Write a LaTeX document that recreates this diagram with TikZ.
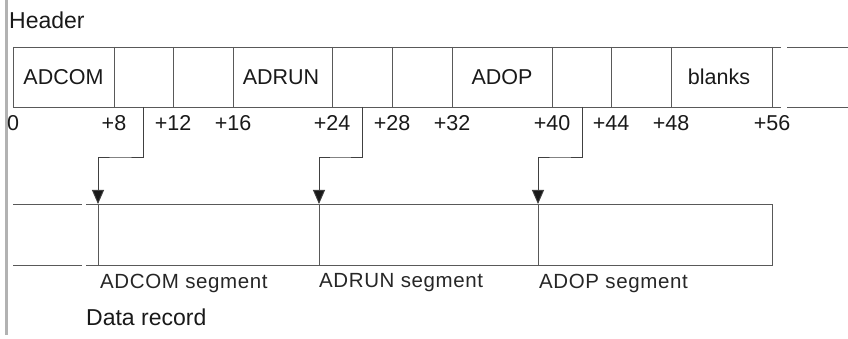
\documentclass[tikz,border=0pt]{standalone}
\usepackage{fontspec}
\setmainfont{Liberation Sans}
\usetikzlibrary{arrows.meta}
\begin{document}
\begin{tikzpicture}[x=1pt,y=-1pt,
  rec/.style={draw=black!65,line width=0.9pt},
  lbl/.style={inner sep=0pt,text=black!90,font=\fontsize{21.5}{25}\selectfont},
  big/.style={inner sep=0pt,text=black!90,font=\fontsize{23}{27}\selectfont},
  seg/.style={inner sep=0pt,text=black!85,font=\addfontfeature{LetterSpace=3}\fontsize{20.5}{24}\selectfont},
  ptr/.style={draw=black!75,line width=0.9pt,-{Triangle[width=12pt,length=14pt,fill=black!90]}}]
\useasboundingbox (0,0) rectangle (848,339);
% left side bar
\fill[black!30] (5,0) rectangle (8,335);
% titles
\node[big,anchor=west] (hdr) at (9,20) {Header};
\node[big,anchor=west] (drec) at (86,317) {Data record};
% header record
\draw[rec] (13,47) -- (781,47);
\draw[rec] (787,47) -- (848,47);
\draw[rec] (13,107) -- (781,107);
\draw[rec] (787,107) -- (848,107);
\foreach \x in {13,114,173,233,332,392,452,552,611,671,772}
  \draw[rec] (\x,47) -- (\x,107);
\node[lbl] (c1) at (63.5,77) {ADCOM};
\node[lbl] (c2) at (281,77) {ADRUN};
\node[lbl] (c3) at (502,77) {ADOP};
\node[lbl] (c4) at (719,77) {blanks};
% offsets
\foreach \x/\t in {13/0,114/+8,173/+12,233/+16,332/+24,392/+28,452/+32,552/+40,611/+44,671/+48,772/+56}
  \node[lbl] (o\t) at (\x,123) {\t};
% data record
\draw[rec] (13,204) -- (82,204);
\draw[rec] (86,204) -- (772,204) -- (772,265) -- (86,265);
\draw[rec] (13,265) -- (82,265);
\foreach \x in {98,319,538}
  \draw[rec] (\x,204) -- (\x,265);
\node[seg,anchor=west] (s1) at (100,283) {ADCOM segment};
\node[seg,anchor=west] (s2) at (319,283) {ADRUN segment};
\node[seg,anchor=west] (s3) at (539,283) {ADOP segment};
% pointers
\coordinate (p1a) at (143,107); \coordinate (p1b) at (98,204);
\coordinate (p2a) at (362,107); \coordinate (p2b) at (319,204);
\coordinate (p3a) at (582,107); \coordinate (p3b) at (538,204);
\draw[ptr] (p1a) |- (120,157) -| (p1b);
\draw[ptr] (p2a) |- (340,157) -| (p2b);
\draw[ptr] (p3a) |- (560,157) -| (p3b);
\end{tikzpicture}
\end{document}
